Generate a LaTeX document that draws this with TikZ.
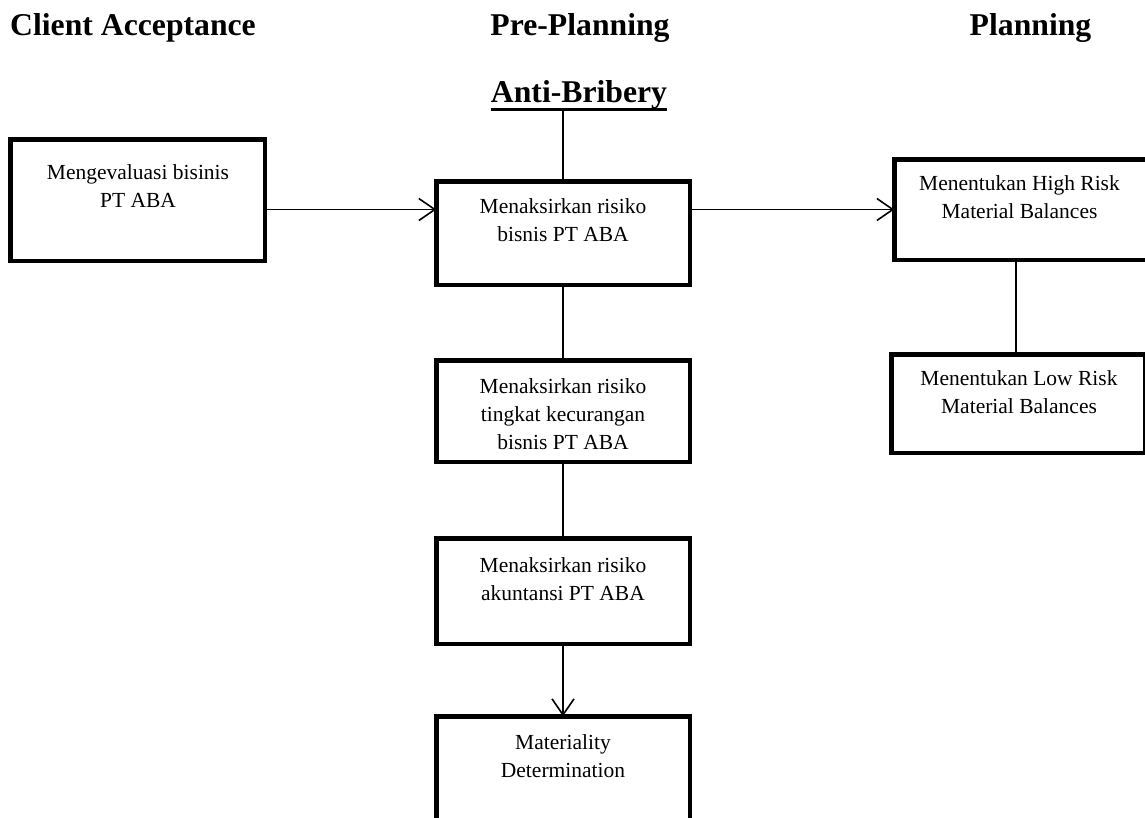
\documentclass[tikz,border=0pt]{standalone}
\usepackage{fontspec}
\setmainfont{Liberation Serif}
\usetikzlibrary{arrows.meta}

\begin{document}
\begin{tikzpicture}[x=1pt, y=-1pt,
  stagebox/.style={draw, line width=4.5pt, rectangle, inner sep=0pt, outer sep=0pt},
  boxtext/.style={anchor=north, align=center, inner sep=0pt,
    font=\fontsize{21.5}{28}\selectfont},
  heading/.style={anchor=base, inner sep=0pt, font=\fontsize{31.7}{38}\selectfont\bfseries},
  link/.style={line width=1.6pt},
  flow/.style={link, -{Straight Barb[length=16pt, width=22pt, line width=1.6pt]}}
]
\clip (0,0) rectangle (1145,817);
\fill[white] (0,0) rectangle (1145,817);

% headings
\node[heading, anchor=base west] (hca) at (10,35) {Client Acceptance};
\node[heading] (hpp) at (580,35) {Pre-Planning};
\node[heading] (hpl) at (1030.5,35) {Planning};
\node[heading] (anti) at (579,102) {Anti-Bribery};
\draw[line width=3pt] ([yshift=-7pt]anti.base west) -- ([yshift=-7pt]anti.base east);
\coordinate (antibar) at ([yshift=-7pt]anti.base);

% boxes (outer edges minus half the border width)
\node[stagebox, minimum width=254.5pt, minimum height=121.5pt] (b1) at (137.5,200) {};
\node[stagebox, minimum width=253.5pt, minimum height=103.5pt] (b2) at (563,233) {};
\node[stagebox, minimum width=253.5pt, minimum height=101.5pt] (b3) at (563,411) {};
\node[stagebox, minimum width=253.5pt, minimum height=105.5pt] (b4) at (563,591) {};
\node[stagebox, minimum width=253.5pt, minimum height=111.5pt] (b5) at (563,772) {};
\node[stagebox, minimum width=253.5pt, minimum height=100.5pt] (b6) at (1021,209.5) {};
\node[stagebox, minimum width=253.5pt, minimum height=98.5pt] (b7) at (1018,403.5) {};

% box texts
\node[boxtext] (t1) at (138,164) {Mengevaluasi bisinis\\PT ABA};
\node[boxtext] (t2) at (563,198) {Menaksirkan risiko\\bisnis PT ABA};
\node[boxtext] (t3) at (563,378) {Menaksirkan risiko\\tingkat kecurangan\\bisnis PT ABA};
\node[boxtext] (t4) at (563,557) {Menaksirkan risiko\\akuntansi PT ABA};
\node[boxtext] (t5) at (563,734) {Materiality\\Determination};
\node[boxtext] (t6) at (1019.5,175) {Menentukan High Risk\\Material Balances};
\node[boxtext] (t7) at (1019,370) {Menentukan Low Risk\\Material Balances};

% connectors
\draw[link] (antibar -| b2.north) -- (b2.north);
\draw[flow] (b1.east |- b6.west) -- (b2.west |- b6.west);
\draw[flow] (b2.east |- b6.west) -- (b6.west);
\draw[link] (b2.south) -- (b3.north);
\draw[link] (b3.south) -- (b4.north);
\draw[flow] (b4.south) -- (b5.north);
\draw[link] ([xshift=-5pt]b6.south) -- ([xshift=-2pt]b7.north);
\end{tikzpicture}
\end{document}
